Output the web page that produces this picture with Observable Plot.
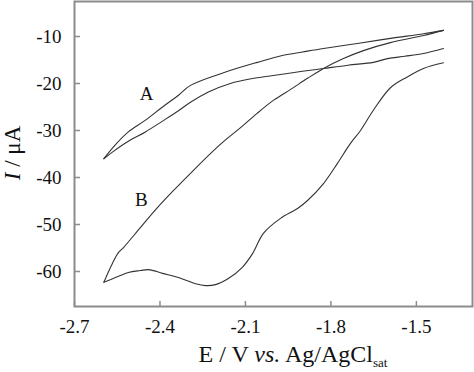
<!DOCTYPE html>
<html>
<head>
<meta charset="utf-8">
<script src="https://cdn.jsdelivr.net/npm/d3@7"></script>
<script src="https://cdn.jsdelivr.net/npm/@observablehq/plot@0.6"></script>
<style>
  html, body { margin: 0; padding: 0; background: #fff; }
  svg, svg g, svg text { font-family: 'Liberation Serif', 'Times New Roman', serif !important; font-variant: normal !important; }
</style>
</head>
<body>
<div id="chart"></div>
<script>
// Curve A, upper branch (from the negative turning point to -1.4 V)
const aUpE = [-2.597, -2.556, -2.511, -2.451, -2.391, -2.335, -2.293, -2.177, -2.058, -1.967, -1.900, -1.826, -1.707, -1.591, -1.475, -1.405];
const aUpI = [-36.0, -33.0, -30.3, -27.8, -25.0, -22.5, -20.4, -17.7, -15.5, -14.0, -13.3, -12.55, -11.5, -10.4, -9.4, -8.7];
// Curve A, lower branch
const aLoE = [-2.597, -2.567, -2.511, -2.451, -2.391, -2.335, -2.293, -2.230, -2.153, -2.080, -2.002, -1.900, -1.826, -1.740, -1.651, -1.602, -1.540, -1.475, -1.405];
const aLoI = [-36.0, -34.6, -32.3, -30.3, -28.0, -25.8, -24.0, -21.8, -20.0, -19.0, -18.3, -17.4, -16.8, -16.1, -15.5, -14.7, -14.2, -13.6, -12.55];
// Curve B, upper branch
const bUpE = [-2.597, -2.567, -2.546, -2.528, -2.468, -2.409, -2.353, -2.293, -2.223, -2.170, -2.117, -2.060, -2.002, -1.940, -1.882, -1.826, -1.756, -1.686, -1.591, -1.475, -1.405];
const bUpI = [-62.3, -58.3, -56.0, -54.9, -50.6, -46.4, -42.8, -39.1, -34.9, -32.0, -29.4, -26.4, -23.6, -21.2, -18.9, -16.8, -14.7, -13.0, -11.3, -9.8, -8.7];
// Curve B, lower branch
const bLoE = [-2.597, -2.556, -2.511, -2.468, -2.440, -2.391, -2.335, -2.275, -2.240, -2.205, -2.160, -2.111, -2.075, -2.037, -1.977, -1.917, -1.882, -1.826, -1.777, -1.732, -1.696, -1.651, -1.591, -1.532, -1.475, -1.405];
const bLoI = [-62.3, -61.3, -60.2, -59.8, -59.6, -60.4, -61.3, -62.6, -63.0, -62.8, -61.5, -59.1, -56.2, -51.9, -48.7, -46.6, -44.9, -41.3, -37.0, -32.8, -30.0, -25.7, -20.9, -18.6, -16.8, -15.6];

const labelText = ["A", "B"];
const labelE = [-2.447, -2.465];
const labelI = [-22.3, -44.7];

const xTicks = [-2.7, -2.4, -2.1, -1.8, -1.5];
const yTicks = [-10, -20, -30, -40, -50, -60];

const branch = (name, es, is) => es.map((e, i) => ({branch: name, E: e, I: is[i]}));
const curves = [
  ...branch("A-up", aUpE, aUpI),
  ...branch("A-lo", aLoE, aLoI),
  ...branch("B-up", bUpE, bUpI),
  ...branch("B-lo", bLoE, bLoI)
];
const labels = labelText.map((t, i) => ({t, E: labelE[i], I: labelI[i]}));

const serif = "'Liberation Serif', 'Times New Roman', serif";

const plot = Plot.plot({
  width: 474,
  height: 372,
  marginLeft: 74,
  marginRight: 2,
  marginTop: 1,
  marginBottom: 66,
  style: {fontFamily: serif, fontSize: "19px", color: "#111", background: "#fff"},
  x: {domain: [-2.7, -1.303]},
  y: {domain: [-67.45, -2.55]},
  marks: [
    Plot.frame({stroke: "#8c8c8c", strokeWidth: 2}),
    Plot.axisX(xTicks, {tickSize: -5, fill: "none", stroke: "#8c8c8c", strokeWidth: 1.5}),
    Plot.axisY(yTicks, {tickSize: -6, fill: "none", stroke: "#8c8c8c", strokeWidth: 1.5}),
    Plot.axisX(xTicks, {tickSize: 0, tickPadding: 13, label: null, fontFamily: serif, fontSize: 19, fontVariant: "normal",
      tickFormat: d => d.toFixed(1)}),
    Plot.axisY(yTicks, {tickSize: 0, tickPadding: 13, label: null, fontFamily: serif, fontSize: 19, fontVariant: "normal",
      tickFormat: d => String(d)}),
    Plot.line(curves, {x: "E", y: "I", z: "branch", stroke: "#333", strokeWidth: 1.1, curve: "catmull-rom"}),
    Plot.text(labels, {x: "E", y: "I", text: "t", fontSize: 19, fontFamily: serif, fill: "#111"})
  ]
});

const svg = d3.select(plot);
// y axis title
const yt = svg.append("text")
  .attr("transform", "translate(20,153) rotate(-90)")
  .attr("text-anchor", "middle")
  .attr("font-size", 23)
  .attr("fill", "#111");
yt.append("tspan").attr("font-style", "italic").text("I");
yt.append("tspan").text(" / μA");

// x axis title
const xt = svg.append("text")
  .attr("x", 293)
  .attr("y", 362)
  .attr("text-anchor", "middle")
  .attr("font-size", 24)
  .attr("fill", "#111");
xt.append("tspan").text("E / V ");
xt.append("tspan").attr("font-style", "italic").text("vs.");
xt.append("tspan").text(" Ag/AgCl");
xt.append("tspan").attr("font-size", 13).attr("dy", 5).text("sat");

document.getElementById("chart").appendChild(plot);
</script>
</body>
</html>
